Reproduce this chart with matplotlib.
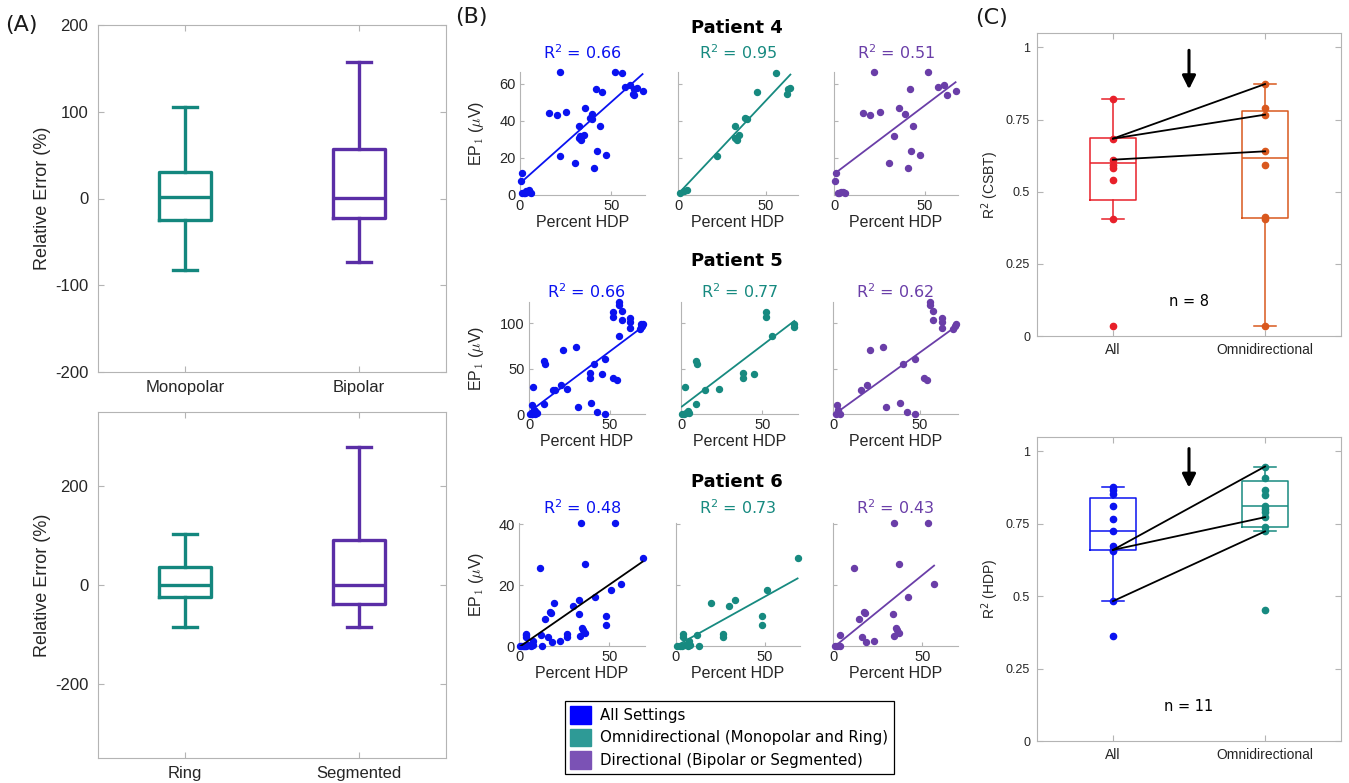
import numpy as np
import matplotlib
matplotlib.use("Agg")
import matplotlib.pyplot as plt
from matplotlib.patches import Patch

# ---------------- (A) relative error box plots ----------------
A_TOP_CATS = ["Monopolar", "Bipolar"]
A_TOP_LO = [-82, -73]
A_TOP_Q1 = [-25, -22]
A_TOP_MED = [2, 1]
A_TOP_Q3 = [31, 57]
A_TOP_HI = [105, 157]

A_BOT_CATS = ["Ring", "Segmented"]
A_BOT_LO = [-85, -85]
A_BOT_Q1 = [-24, -38]
A_BOT_MED = [0, 0]
A_BOT_Q3 = [37, 91]
A_BOT_HI = [104, 280]

# ---------------- (B) EP1 vs percent HDP, per patient ----------------
PATIENTS = ["Patient 4", "Patient 5", "Patient 6"]

P4_OMNI_X = [1.0, 3.5, 5.0, 22, 32.5, 32.5, 33.5, 35, 38, 39.5, 45, 56, 62, 62.5, 64]
P4_OMNI_Y = [1.0, 2.0, 2.5, 21, 37.5, 31, 29.5, 32.5, 41.5, 41, 55.5, 66, 54.5, 57, 58]
P4_DIR_X = [21.8, 51.7, 57.2, 60.4, 62.2, 67.0, 41.7, 16.0, 20.0, 25.1, 35.8, 39.4, 43.5,
            42.2, 47.2, 33.0, 30.3, 40.7, 1.3, 0.4, 2.0, 3.0, 4.0, 5.0, 6.0]
P4_DIR_Y = [66.4, 66.4, 58.2, 59.3, 53.9, 56.4, 57.0, 44.0, 43.3, 45.0, 47.2, 43.6, 37.4,
            24.0, 21.4, 32.0, 17.4, 14.8, 11.9, 7.5, 0.9, 1.0, 1.5, 1.8, 1.0]

P5_OMNI_X = [52, 52, 69.5, 69.5, 56, 9.5, 10, 2.5, 15, 23.5, 9.5, 38, 38, 45, 0.5, 2, 3, 4, 5]
P5_OMNI_Y = [112.5, 107, 99.5, 96, 86.5, 59, 55, 30, 26, 27.5, 10.5, 45.5, 39.5, 44,
             0, 0.5, 1.5, 3, 1]
P5_DIR_X = [55.6, 55.6, 57.3, 57.3, 62.5, 62.7, 62.5, 70.4, 70.2, 68.8, 21.3, 28.8, 40.2,
            46.9, 52.1, 54.2, 19.8, 16.0, 2.1, 3.0, 2.0, 4.0, 30.2, 38.5, 42.3, 47.3]
P5_DIR_Y = [123.7, 120.0, 113.9, 104.0, 105.5, 101.8, 94.5, 99.3, 96.7, 93.8, 70.8, 74.5,
            55.5, 60.2, 39.8, 37.2, 32.5, 26.3, 9.9, 4.4, 0.5, 0.5, 7.3, 11.7, 1.8, 0.0]

P6_OMNI_X = [68.5, 51, 48.5, 48.5, 33, 30, 19.5, 26.5, 26.5, 12, 4, 4, 13, 7.5, 8,
             0.5, 2, 3.5, 5, 6.5]
P6_OMNI_Y = [29, 18.5, 9.8, 6.8, 15.2, 13.3, 14.2, 3.8, 2.8, 3.5, 3.8, 3.0, 0, 1.5, 0.2,
             0, 0, 0, 0.2, 0]
P6_DIR_X = [34.3, 53.3, 36.7, 11.5, 56.5, 42.2, 33.3, 14.4, 17.2, 17.8, 16.3, 18.5, 22.8,
            35.2, 35.7, 34.0, 36.7, 3.7, 1.0, 2.5, 4.0]
P6_DIR_Y = [40.4, 40.4, 27.0, 25.6, 20.4, 16.0, 10.4, 8.9, 11.3, 10.8, 3.1, 1.4, 1.6,
            5.8, 5.1, 3.4, 4.2, 3.6, 0, 0, 0]

R2_ALL = [0.66, 0.66, 0.48]
R2_OMNI = [0.95, 0.77, 0.73]
R2_DIR = [0.51, 0.62, 0.43]
# (slope, intercept) of the fitted lines
FIT_ALL = [(0.88, 6.3), (1.34, 2.1), (0.41, -0.4)]
FIT_OMNI = [(1.008, 0.5), (1.37, 7.5), (0.324, 0.0)]
FIT_DIR = [(0.74, 11.3), (1.39, -1.4), (0.478, -0.6)]
B_YTICKS = [[0, 20, 40, 60], [0, 50, 100], [0, 20, 40]]

# ---------------- (C) R^2 comparison ----------------
C_CATS = ["All", "Omnidirectional"]
C_TOP_STATS = {"lo": [0.405, 0.035], "q1": [0.473, 0.409], "med": [0.598, 0.617],
               "q3": [0.686, 0.781], "hi": [0.821, 0.873]}
C_TOP_ALL = [0.821, 0.684, 0.611, 0.594, 0.582, 0.539, 0.404, 0.035]
C_TOP_OMNI = [0.873, 0.79, 0.767, 0.64, 0.592, 0.412, 0.407, 0.035]
C_TOP_PAIR_FROM = [0.684, 0.684, 0.611]
C_TOP_PAIR_TO = [0.873, 0.767, 0.64]

C_BOT_STATS = {"lo": [0.483, 0.724], "q1": [0.66, 0.738], "med": [0.724, 0.812],
               "q3": [0.84, 0.897], "hi": [0.879, 0.948]}
C_BOT_ALL = [0.879, 0.867, 0.853, 0.812, 0.766, 0.724, 0.674, 0.66, 0.655, 0.483, 0.361]
C_BOT_OMNI = [0.948, 0.909, 0.867, 0.85, 0.812, 0.80, 0.79, 0.773, 0.74, 0.724, 0.453]
C_BOT_PAIR_FROM = [0.66, 0.66, 0.483]
C_BOT_PAIR_TO = [0.948, 0.773, 0.724]

# colours
TEAL_A = "#14877e"
PURPLE_A = "#5a2ea6"
BLUE = "#0a12f0"
TEAL = "#178a80"
PURPLE = "#6a3ea8"
RED = "#e8202a"
ORANGE = "#d9581e"
TXT = "#262626"
SPINE = "#b4b4b4"

plt.rcParams["font.family"] = ["Liberation Sans", "DejaVu Sans"]
plt.rcParams["axes.unicode_minus"] = False

W, H = 1349, 783
fig = plt.figure(figsize=(W / 100, H / 100), dpi=100)


def rect(l, t, r, b):
    return [l / W, 1 - b / H, (r - l) / W, (b - t) / H]


def style_box_axes(ax, ysize, xsize, ypad, xpad):
    for s in ax.spines.values():
        s.set_color(SPINE)
        s.set_linewidth(0.8)
    ax.tick_params(direction="in", top=True, right=True, length=4, color=SPINE,
                   labelcolor=TXT)
    ax.tick_params(axis="y", labelsize=ysize, pad=ypad)
    ax.tick_params(axis="x", labelsize=xsize, pad=xpad)


def draw_boxes(ax, lo, q1, med, q3, hi, colors, lw, cap):
    for i in range(len(colors)):
        st = dict(whislo=lo[i], q1=q1[i], med=med[i], q3=q3[i], whishi=hi[i], fliers=[])
        kw = dict(color=colors[i], lw=lw)
        ax.bxp([st], positions=[i + 1], widths=0.3, capwidths=cap, showfliers=False,
               boxprops=kw, whiskerprops=kw, capprops=kw, medianprops=kw,
               manage_ticks=False)
    ax.set_xlim(0.5, 2.5)


# ---------------- panel A ----------------
for box, cats, vals, ylim, yt in [
        ((98, 25, 446, 372), A_TOP_CATS,
         (A_TOP_LO, A_TOP_Q1, A_TOP_MED, A_TOP_Q3, A_TOP_HI), (-200, 200), [-200, -100, 0, 100, 200]),
        ((98, 412, 446, 758), A_BOT_CATS,
         (A_BOT_LO, A_BOT_Q1, A_BOT_MED, A_BOT_Q3, A_BOT_HI), (-350, 350), [-200, 0, 200])]:
    ax = fig.add_axes(rect(*box))
    draw_boxes(ax, *vals, [TEAL_A, PURPLE_A], 2.4, 0.14)
    ax.set_ylim(*ylim)
    ax.set_yticks(yt)
    ax.set_xticks([1, 2])
    ax.set_xticklabels(cats)
    style_box_axes(ax, 12, 12, 7, 6)
    ax.set_ylabel("Relative Error (%)", fontsize=13, color=TXT)
    ax.yaxis.set_label_coords((51 - box[0]) / (box[2] - box[0]), 0.5)

# ---------------- panel B ----------------
B_ROWS = [
    (P4_OMNI_X, P4_OMNI_Y, P4_DIR_X, P4_DIR_Y),
    (P5_OMNI_X, P5_OMNI_Y, P5_DIR_X, P5_DIR_Y),
    (P6_OMNI_X, P6_OMNI_Y, P6_DIR_X, P6_DIR_Y),
]
B_AXES = [
    [(520, 72, 645, 195), (678, 72, 798, 195), (834, 72, 958, 195)],
    [(529, 302, 645, 414), (681, 302, 798, 414), (833, 302, 958, 414)],
    [(519, 523, 645, 646), (676, 523, 800, 646), (833, 523, 958, 646)],
]
B_TITLE_Y = [28, 261, 482]
B_R2_Y = [53, 292, 508]
ALL_LINE = [BLUE, BLUE, "black"]

for r in range(3):
    ox, oy, dx, dy = [np.asarray(v, float) for v in B_ROWS[r]]
    allx = np.concatenate([ox, dx])
    ally = np.concatenate([oy, dy])
    xmax = allx.max() * 1.02
    ymax = ally.max()
    series = [
        (allx, ally, BLUE, FIT_ALL[r], ALL_LINE[r], R2_ALL[r]),
        (ox, oy, TEAL, FIT_OMNI[r], TEAL, R2_OMNI[r]),
        (dx, dy, PURPLE, FIT_DIR[r], PURPLE, R2_DIR[r]),
    ]
    for c, (x, y, col, (m, b0), lcol, r2) in enumerate(series):
        box = B_AXES[r][c]
        ax = fig.add_axes(rect(*box))
        ax.plot(x, y, "o", ms=4.3, color=col, mec=col, clip_on=False, zorder=3)
        xs = np.array([x.min(), x.max()])
        ax.plot(xs, m * xs + b0, color=lcol, lw=1.3, zorder=4)
        ax.set_xlim(0, xmax)
        ax.set_ylim(0, ymax)
        ax.set_xticks([0, 50])
        ax.set_yticks(B_YTICKS[r])
        for s in ["top", "right"]:
            ax.spines[s].set_visible(False)
        for s in ["left", "bottom"]:
            ax.spines[s].set_color(SPINE)
            ax.spines[s].set_linewidth(0.8)
        ax.tick_params(direction="in", length=3, color=SPINE, labelcolor=TXT,
                       labelsize=10.5, pad=3)
        if c > 0:
            ax.tick_params(axis="y", labelleft=False)
        else:
            ax.set_ylabel(r"EP$_1$ ($\mu$V)", fontsize=11.5, color=TXT,
                          math_fontfamily="cm")
            ax.yaxis.set_label_coords((486 - box[0]) / (box[2] - box[0]), 0.5)
        ax.set_xlabel("Percent HDP", fontsize=11.5, color=TXT, labelpad=1)
        cx = (box[0] + box[2]) / 2
        fig.text(cx / W, 1 - B_R2_Y[r] / H, r"R$^2$ = %.2f" % r2, color=col,
                 fontsize=11.5, ha="center", va="center", family="DejaVu Sans",
                 math_fontfamily="dejavusans")
    fig.text(737 / W, 1 - B_TITLE_Y[r] / H, PATIENTS[r], fontsize=13, weight="bold",
             ha="center", va="center", family="DejaVu Sans")

handles = [Patch(facecolor="#0000ff", edgecolor="#0000ff"),
           Patch(facecolor="#2e9a96", edgecolor="#2e9a96"),
           Patch(facecolor="#7b52b5", edgecolor="#7b52b5")]
leg = fig.legend(handles, ["All Settings", "Omnidirectional (Monopolar and Ring)",
                           "Directional (Bipolar or Segmented)"],
                 loc="upper left", bbox_to_anchor=(565 / W, 1 - 701 / H),
                 borderaxespad=0, fancybox=False, edgecolor="black", framealpha=1,
                 handlelength=1.4, handleheight=1.4, labelspacing=0.35, borderpad=0.35,
                 handletextpad=0.6, prop=dict(family="DejaVu Sans", size=10.8))
leg.get_frame().set_linewidth(0.9)

# ---------------- panel C ----------------
for box, stats, pall, pomni, pfrom, pto, cols, ylab, ntxt, arrow_top in [
        ((1037, 33, 1341, 336), C_TOP_STATS, C_TOP_ALL, C_TOP_OMNI, C_TOP_PAIR_FROM,
         C_TOP_PAIR_TO, [RED, ORANGE], r"R$^2$ (CSBT)", "n = 8", 0.99),
        ((1037, 437, 1341, 741), C_BOT_STATS, C_BOT_ALL, C_BOT_OMNI, C_BOT_PAIR_FROM,
         C_BOT_PAIR_TO, [BLUE, TEAL], r"R$^2$ (HDP)", "n = 11", 1.01)]:
    ax = fig.add_axes(rect(*box))
    draw_boxes(ax, stats["lo"], stats["q1"], stats["med"], stats["q3"], stats["hi"],
               cols, 1.1, 0.15)
    ax.plot(np.full(len(pall), 1.0), pall, "o", ms=4.5, color=cols[0], zorder=3)
    ax.plot(np.full(len(pomni), 2.0), pomni, "o", ms=4.5, color=cols[1], zorder=3)
    for a, b in zip(pfrom, pto):
        ax.plot([1, 2], [a, b], color="black", lw=1.3, zorder=4)
    ax.annotate("", xy=(1.5, arrow_top - 0.135), xytext=(1.5, arrow_top),
                arrowprops=dict(arrowstyle="-|>", color="black", lw=2.2,
                                mutation_scale=20, shrinkA=0, shrinkB=0))
    ax.text(1.5, 0.12, ntxt, ha="center", va="center", fontsize=10.5,
            family="DejaVu Sans", color="black")
    ax.set_ylim(0, 1.05)
    ax.set_yticks([0, 0.25, 0.5, 0.75, 1])
    ax.set_yticklabels(["0", "0.25", "0.5", "0.75", "1"])
    ax.set_xticks([1, 2])
    ax.set_xticklabels(C_CATS)
    style_box_axes(ax, 9, 10, 5, 5)
    ax.set_ylabel(ylab, fontsize=10, color=TXT)
    ax.yaxis.set_label_coords((1001 - box[0]) / (box[2] - box[0]), 0.5)

for lab, x, y in [("(A)", 5, 25), ("(B)", 455, 17), ("(C)", 975, 18)]:
    fig.text(x / W, 1 - y / H, lab, fontsize=16, ha="left", va="center",
             family="DejaVu Sans", color="#1a1a1a")

fig.savefig("out.png", dpi=100)
